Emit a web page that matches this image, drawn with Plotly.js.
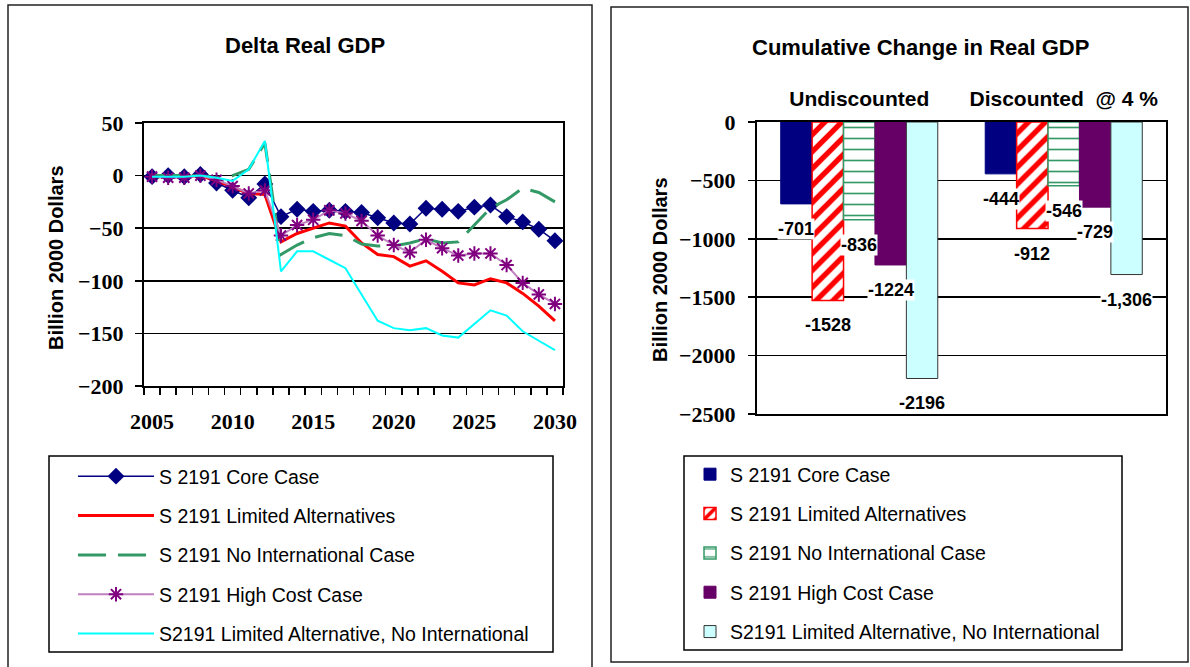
<!DOCTYPE html>
<html>
<head>
<meta charset="utf-8">
<script src="https://cdn.plot.ly/plotly-3.0.1.min.js"></script>
<style>html,body{margin:0;padding:0;background:#fff;}#chart{width:1190px;height:667px;}</style>
</head>
<body>
<div id="chart"></div>
<script>
// ---------- Data: Delta Real GDP (billion 2000 dollars) ----------
const years = [2005,2006,2007,2008,2009,2010,2011,2012,2013,2014,2015,2016,2017,2018,2019,2020,2021,2022,2023,2024,2025,2026,2027,2028,2029,2030];
const coreCase = [-1,0,-1,1,-7,-14,-21,-8,-39,-32,-34,-33,-34,-35,-40,-45,-46,-31,-32,-34,-30,-28,-39,-44,-51,-62];
const limitedAlt = [-1,-1,-1,0,-5,-11,-17,-18,-63,-55,-50,-45,-48,-64,-75,-77,-86,-81,-91,-102,-104,-98,-102,-112,-124,-138];
const noIntl = [0,0,0,0,-2,0,6,31,-75,-66,-59,-55,-57,-65,-67,-67,-64,-60,-64,-63,-47,-31,-23,-12,-16,-25];
const highCost = [-1,-2,-2,0,-4,-10,-17,-14,-57,-47,-42,-33,-36,-43,-57,-66,-73,-61,-69,-76,-74,-74,-85,-102,-113,-122];
const limitedNoIntl = [-1,-1,-1,0,-2,-5,6,33,-91,-72,-72,-80,-88,-113,-138,-145,-147,-145,-152,-154,-141,-128,-133,-148,-157,-166];
const lineNames = ['S 2191 Core Case','S 2191 Limited Alternatives','S 2191 No International Case','S 2191 High Cost Case','S2191 Limited Alternative, No International'];
const xTickVals = [2005,2010,2015,2020,2025,2030];

// ---------- Data: Cumulative change in Real GDP ----------
const barCategories = ['Undiscounted','Discounted  @ 4 %'];
const barCore = [-701,-444];
const barLimited = [-1528,-912];
const barNoIntl = [-836,-546];
const barHighCost = [-1224,-729];
const barLimitedNoIntl = [-2196,-1306];
const barLabels = [['-701','-444'],['-1528','-912'],['-836','-546'],['-1224','-729'],['-2196','-1,306']];

// ---------- helpers ----------
const W = 1190, H = 667;
const px = v => v / W;
const py = v => 1 - v / H;
const SANS = 'Arial, Liberation Sans, sans-serif';
const SERIF = 'Times New Roman, Liberation Serif, serif';

const lineSeries = [coreCase, limitedAlt, noIntl, highCost, limitedNoIntl];
const lineStyles = [
  {mode:'lines+markers', line:{color:'#000080', width:1.5}, marker:{symbol:'diamond', size:13, color:'#000080'}},
  {mode:'lines', line:{color:'#ff0000', width:3}},
  {mode:'lines', line:{color:'#339966', width:3, dash:'28px,12px'}},
  {mode:'lines+markers', line:{color:'#c080c0', width:2}, marker:{symbol:'asterisk-open', size:12, color:'#800080', line:{color:'#800080', width:2}}},
  {mode:'lines', line:{color:'#00ffff', width:2}}
];

const traces = [];
lineSeries.forEach((vals, i) => {
  traces.push(Object.assign({
    type:'scatter', x: years, y: vals, name: lineNames[i],
    xaxis:'x', yaxis:'y', legend:'legend', legendgroup:'L'+i
  }, lineStyles[i]));
});

const barSeries = [barCore, barLimited, barNoIntl, barHighCost, barLimitedNoIntl];
const barStyles = [
  {marker:{color:'#000080', line:{color:'#000080', width:1}}},
  {marker:{color:'#ffffff', line:{color:'#ff0000', width:1.5}, pattern:{shape:'/', fgcolor:'#ff0000', bgcolor:'#ffffff', size:12, solidity:0.45}}},
  {marker:{color:'#ffffff', line:{color:'#339966', width:1.5}, pattern:{shape:'-', fgcolor:'#339966', bgcolor:'#ffffff', size:11, solidity:0.15}}},
  {marker:{color:'#660066', line:{color:'#660066', width:1}}},
  {marker:{color:'#ccffff', line:{color:'#333333', width:1}}}
];
barSeries.forEach((vals, i) => {
  traces.push(Object.assign({
    type:'bar', x: barCategories, y: vals, name: lineNames[i],
    xaxis:'x2', yaxis:'y2', legend:'legend2', legendgroup:'B'+i
  }, barStyles[i]));
});

// data labels under each bar
const barPx = 31.4;
const annotations = [];
barSeries.forEach((vals, i) => {
  vals.forEach((v, j) => {
    annotations.push({
      xref:'x2', yref:'y2', x: barCategories[j], y: v, xshift:(i-2)*barPx, yshift:-25,
      xanchor:'center', yanchor:'middle',
      text: barLabels[i][j], showarrow:false, bgcolor:'#ffffff', borderpad:0,
      font:{family:SANS, size:18, color:'#000', weight:'bold'}
    });
  });
});
// titles
const textAnn = (x, y, text, size, angle) => ({xref:'paper', yref:'paper', x:px(x), y:py(y), xanchor:'center', yanchor:'middle',
  text:text, textangle:angle||0, showarrow:false, font:{family:SANS, size:size, color:'#000', weight:'bold'}});
annotations.push(textAnn(305, 45, 'Delta Real GDP', 22));
annotations.push(textAnn(920, 47, 'Cumulative Change in Real GDP', 22));
annotations.push(textAnn(56, 258, 'Billion 2000 Dollars', 20, -90));
annotations.push(textAnn(660, 270, 'Billion 2000 Dollars', 20, -90));

const frame = (x0,y0,x1,y1,w,c) => ({type:'rect', xref:'paper', yref:'paper', x0:px(x0), x1:px(x1), y0:py(y1), y1:py(y0), line:{color:c||'#000', width:w||1.5}, fillcolor:'rgba(0,0,0,0)', layer:'below'});
const shapes = [
  frame(8,5,592,680,1.5,'#222'),
  frame(611,7,1188,662,1.5,'#222'),
  frame(49,456,553,652,1.5,'#000'),
  frame(684,456,1122,650,1.5,'#000')
];

const layout = {
  width: W, height: H,
  margin:{l:0, r:0, t:0, b:0},
  paper_bgcolor:'#ffffff', plot_bgcolor:'#ffffff',
  showlegend:true,
  xaxis:{domain:[px(144), px(563)], range:[2004.5, 2030.5], tickmode:'array', tickvals:xTickVals,
    ticks:'', showgrid:false, zeroline:false, showline:true, linecolor:'#000', linewidth:2, mirror:true,
    tickfont:{family:SERIF, size:22, color:'#000', weight:'bold'}, ticklabelstandoff:15,
    minor:{ticks:'outside', tickmode:'linear', tick0:2004.5, dtick:1, ticklen:7, tickwidth:1.5, tickcolor:'#000', showgrid:false},
    fixedrange:true},
  yaxis:{domain:[py(386), py(123)], range:[-200, 50], dtick:50, tick0:0,
    showgrid:true, gridcolor:'#000', gridwidth:1.5, zeroline:false,
    ticks:'outside', ticklen:7, tickwidth:1.5, tickcolor:'#000',
    showline:true, linecolor:'#000', linewidth:2, mirror:true,
    tickfont:{family:SERIF, size:22, color:'#000', weight:'bold'}, ticklabelstandoff:7, fixedrange:true},
  xaxis2:{domain:[px(757), px(1166)], anchor:'y2', type:'category', side:'top', ticks:'',
    showgrid:false, zeroline:false, showline:true, linecolor:'#000', linewidth:2, mirror:true,
    tickfont:{family:SANS, size:21, color:'#000', weight:'bold'}, ticklabelstandoff:6, fixedrange:true},
  yaxis2:{domain:[py(414), py(122)], anchor:'x2', range:[-2500, 0], dtick:500, tick0:0,
    showgrid:true, gridcolor:'#000', gridwidth:1.5, zeroline:false,
    ticks:'outside', ticklen:7, tickwidth:1.5, tickcolor:'#000',
    showline:true, linecolor:'#000', linewidth:2, mirror:true,
    tickfont:{family:SERIF, size:22, color:'#000', weight:'bold'}, ticklabelstandoff:8, fixedrange:true},
  barmode:'group', bargap:0.232, bargroupgap:0,
  legend:{x:px(73), y:py(457), xanchor:'left', yanchor:'top', bgcolor:'rgba(0,0,0,0)', borderwidth:0,
    font:{family:SANS, size:19.5, color:'#000'}, itemwidth:76, tracegroupgap:11, traceorder:'grouped'},
  legend2:{x:px(690), y:py(455), xanchor:'left', yanchor:'top', bgcolor:'rgba(0,0,0,0)', borderwidth:0,
    font:{family:SANS, size:19.5, color:'#000'}, itemwidth:30, tracegroupgap:11, traceorder:'grouped'},
  annotations: annotations,
  shapes: shapes
};

Plotly.newPlot('chart', traces, layout, {staticPlot:true, displayModeBar:false});
</script>
</body>
</html>
